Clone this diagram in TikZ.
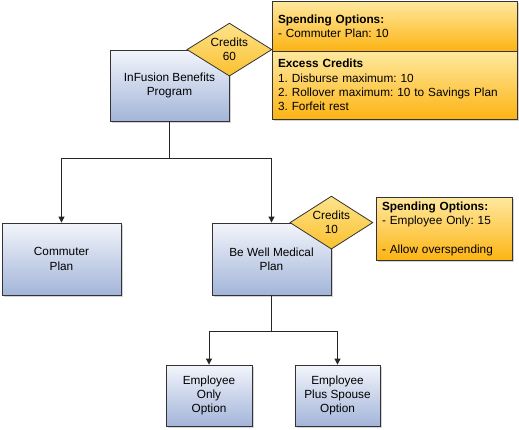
\documentclass[tikz,border=0pt]{standalone}
\usepackage{fontspec}
\setmainfont{Liberation Sans}
\usetikzlibrary{shapes.geometric,arrows.meta,shadows}

\definecolor{plantop}{HTML}{F2F5FB}
\definecolor{planbot}{HTML}{A3B5D9}
\definecolor{notetop}{HTML}{FEE9A0}
\definecolor{notebot}{HTML}{FDB414}
\definecolor{credtop}{HTML}{FDE38C}
\definecolor{credbot}{HTML}{FBC02E}

\begin{document}
\frenchspacing
\begin{tikzpicture}[x=1pt,y=-1pt,
  font=\fontsize{11.8}{14.3}\selectfont,
  plan/.style={draw=black!80,thick,top color=plantop,bottom color=planbot,
    align=center,inner sep=0pt,
    drop shadow={shadow xshift=1.5pt,shadow yshift=-1.5pt,opacity=0.35}},
  note/.style={draw=black!80,thick,top color=notetop,bottom color=notebot,
    align=left,inner xsep=6pt,inner ysep=0pt,
    drop shadow={shadow xshift=1.5pt,shadow yshift=-1.5pt,opacity=0.35}},
  credits/.style={diamond,draw=black!80,thick,top color=credtop,bottom color=credbot,
    align=center,inner sep=0pt,aspect=1.6},
  link/.style={thick,black!85},
  arr/.style={link,-{Triangle[width=6pt,length=6pt]}}]
\useasboundingbox (0,0) rectangle (519,429);

% plans
\node[plan,minimum width=119pt,minimum height=71pt] (prog) at (169.5,85.5) {InFusion Benefits\\Program};
\node[plan,minimum width=119pt,minimum height=72pt] (commuter) at (61.5,259) {Commuter\\Plan};
\node[plan,minimum width=119pt,minimum height=72pt] (bewell) at (271.5,259) {Be Well Medical\\Plan};
\node[plan,minimum width=86pt,minimum height=61pt] (emponly) at (209,395.5) {Employee\\Only\\Option};
\node[plan,minimum width=85pt,minimum height=61pt] (empspouse) at (337.5,395.5) {Employee\\Plus Spouse\\Option};

% notes
\node[note,text width=233pt,minimum height=50pt] (spend1) at (394.5,26) {\textbf{Spending Options:}\\- Commuter Plan: 10};
\node[note,text width=233pt,minimum height=68pt] (excess) at (394.5,85) {\textbf{Excess Credits}\\1. Disburse maximum: 10\\2. Rollover maximum: 10 to Savings Plan\\3. Forfeit rest};
\node[note,text width=124pt,minimum height=63pt] (spend2) at (444,228.5) {\textbf{Spending Options:}\\- Employee Only: 15\\[14.3pt]- Allow overspending};

% credits
\node[credits,minimum width=85pt,minimum height=53pt] (cred60) at (prog.north east) {Credits\\60};
\node[credits,minimum width=83pt,minimum height=53pt] (cred10) at (bewell.north east) {Credits\\10};

% connectors
\coordinate (split1) at (169.5,158);
\coordinate (split2) at (271.5,331);
\draw[link] (prog) -- (split1);
\draw[arr] (split1) -| (commuter);
\draw[arr] (split1) -| (bewell);
\draw[link] (bewell) -- (split2);
\draw[arr] (split2) -| (emponly);
\draw[arr] (split2) -| (empspouse);
\end{tikzpicture}
\end{document}
